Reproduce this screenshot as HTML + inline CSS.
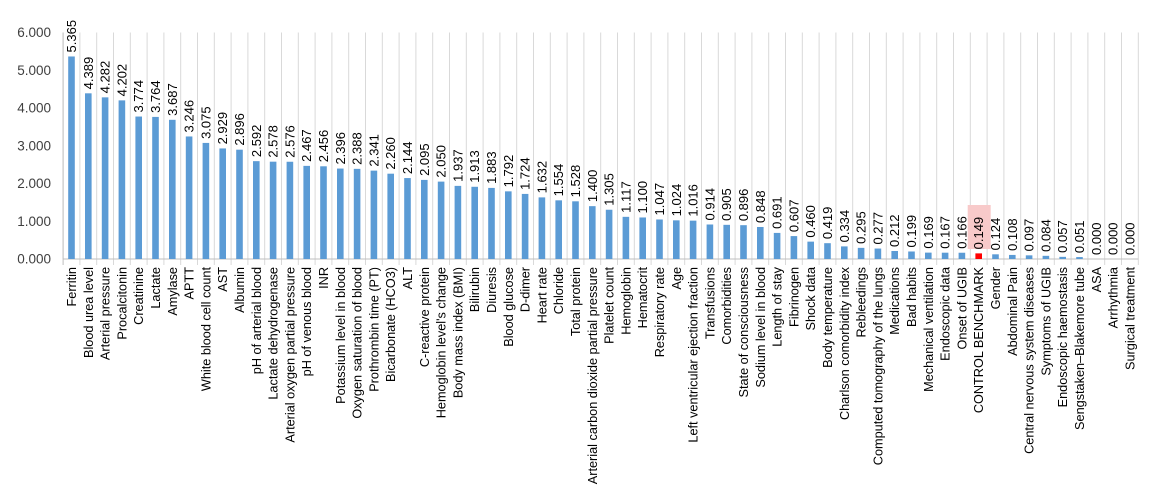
<!DOCTYPE html>
<html><head><meta charset="utf-8"><style>
html,body{margin:0;padding:0;background:#fff;}
svg{display:block;font-family:"Liberation Sans",Arial,sans-serif;}
</style></head><body>
<svg id="c" width="1168" height="502" viewBox="0 0 1168 502" xmlns="http://www.w3.org/2000/svg"></svg>
<script>
const names=["Ferritin","Blood urea level","Arterial pressure","Procalcitonin","Creatinine","Lactate","Amylase","APTT","White blood cell count","AST","Albumin","pH of arterial blood","Lactate dehydrogenase","Arterial oxygen partial pressure","pH of venous blood","INR","Potassium level in blood","Oxygen saturation of blood","Prothrombin time (PT)","Bicarbonate (HCO3)","ALT","C-reactive protein","Hemoglobin level's change","Body mass index (BMI)","Bilirubin","Diuresis","Blood glucose","D-dimer","Heart rate","Chloride","Total protein","Arterial carbon dioxide partial pressure","Platelet count","Hemoglobin","Hematocrit","Respiratory rate","Age","Left ventricular ejection fraction","Transfusions","Comorbidities","State of consciousness","Sodium level in blood","Length of stay","Fibrinogen","Shock data","Body temperature","Charlson comorbidity index","Rebleedings","Computed tomography of the lungs","Medications","Bad habits","Mechanical ventilation","Endoscopic data","Onset of UGIB","CONTROL BENCHMARK","Gender","Abdominal Pain","Central nervous system diseases","Symptoms of UGIB","Endoscopic haemostasis","Sengstaken–Blakemore tube","ASA","Arrhythmia","Surgical treatment"];
const vals=[5.365,4.389,4.282,4.202,3.774,3.764,3.687,3.246,3.075,2.929,2.896,2.592,2.578,2.576,2.467,2.456,2.396,2.388,2.341,2.260,2.144,2.095,2.050,1.937,1.913,1.883,1.792,1.724,1.632,1.554,1.528,1.400,1.305,1.117,1.100,1.047,1.024,1.016,0.914,0.905,0.896,0.848,0.691,0.607,0.460,0.419,0.334,0.295,0.277,0.212,0.199,0.169,0.167,0.166,0.149,0.124,0.108,0.097,0.084,0.057,0.051,0,0,0];
const x0=63.1,s=16.8,y0=259,k=(259-32.5)/6;
let h='';
for(let i=0;i<=6;i++){const y=y0-i*k;h+=`<text x="51" y="${y+4.5}" text-anchor="end" font-size="13.5" fill="#404040">${i}.000</text>`;}
for(let i=0;i<=64;i++){const x=x0+i*s;h+=`<line x1="${x}" y1="32.5" x2="${x}" y2="${i==0?259:265}" stroke="#d9d9d9" stroke-width="1"/>`;}
h+=`<line x1="${x0}" y1="32.5" x2="${x0}" y2="265" stroke="#bfbfbf"/>`;
h+=`<line x1="${x0}" y1="${y0}" x2="${x0+64*s}" y2="${y0}" stroke="#bfbfbf"/>`;
const ci=54,cx=x0+(ci+0.5)*s;
h+=`<rect x="${cx-11}" y="205" width="23" height="44" fill="#f8caca"/>`;
vals.forEach((v,i)=>{
 const c=x0+(i+0.5)*s, t=y0-v*k;
 if(v>0)h+=`<rect x="${c-3.3}" y="${t}" width="6.6" height="${y0-t}" fill="${i==ci?'#ff0000':'#5b9bd5'}"/>`;
 h+=`<text transform="translate(${c+4.5},${t-4}) rotate(-90)" font-size="13" fill="#000">${v.toFixed(3)}</text>`;
 h+=`<text transform="translate(${c+4.5},267) rotate(-90)" text-anchor="end" font-size="12.7" fill="#000">${names[i]}</text>`;
});
document.getElementById('c').innerHTML=h;
</script>
</body></html>
